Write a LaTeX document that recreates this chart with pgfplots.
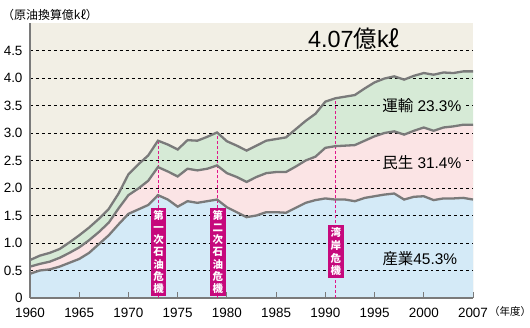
\documentclass[border=0pt]{standalone}
\usepackage{fontspec}
\setmainfont{Liberation Sans}
\newfontfamily\jp{Noto Sans CJK JP}
\usepackage{pgfplots}
\pgfplotsset{compat=1.18}
\usepackage{pgfplotstable}

\definecolor{bg}{HTML}{F2EFE5}
\definecolor{ind}{HTML}{D4EAF7}
\definecolor{res}{HTML}{FBE4E5}
\definecolor{tra}{HTML}{D6EAD6}
\definecolor{ln}{HTML}{7A7A7A}
\definecolor{mg}{HTML}{C6097C}
\definecolor{mgl}{HTML}{E0168A}

\pgfplotstableread{
year ind mid top
1960 0.44 0.57 0.69
1961 0.50 0.62 0.77
1962 0.52 0.66 0.82
1963 0.57 0.73 0.89
1964 0.64 0.82 1.01
1965 0.71 0.92 1.14
1966 0.82 1.05 1.28
1967 0.98 1.20 1.44
1968 1.14 1.37 1.62
1969 1.34 1.63 1.90
1970 1.53 1.87 2.25
1971 1.61 1.99 2.43
1972 1.69 2.13 2.59
1973 1.87 2.38 2.86
1974 1.79 2.30 2.79
1975 1.66 2.21 2.70
1976 1.76 2.35 2.87
1977 1.73 2.32 2.86
1978 1.76 2.35 2.93
1979 1.79 2.41 3.01
1980 1.65 2.27 2.85
1981 1.56 2.20 2.77
1982 1.47 2.11 2.68
1983 1.50 2.20 2.77
1984 1.56 2.27 2.86
1985 1.56 2.29 2.89
1986 1.55 2.29 2.92
1987 1.64 2.39 3.07
1988 1.73 2.50 3.22
1989 1.78 2.57 3.35
1990 1.81 2.73 3.57
1991 1.79 2.76 3.63
1992 1.79 2.77 3.66
1993 1.76 2.78 3.69
1994 1.82 2.86 3.81
1995 1.85 2.94 3.92
1996 1.88 3.00 3.99
1997 1.90 3.03 4.03
1998 1.79 2.97 3.97
1999 1.84 3.04 4.04
2000 1.85 3.10 4.09
2001 1.78 3.04 4.06
2002 1.81 3.10 4.10
2003 1.81 3.12 4.09
2004 1.82 3.15 4.12
2005 1.79 3.15 4.12
}\data

\begin{document}
\begin{tikzpicture}
\begin{axis}[
  set layers,
  scale only axis, width=443bp, height=275bp,
  xmin=1960, xmax=2005, ymin=0, ymax=5,
  axis x line*=bottom, axis y line*=left,
  axis line style={ln, line width=1.2bp},
  axis background/.style={fill=bg},
  xtick={1960,1965,1970,1975,1980,1985,1990,1995,2000,2005},
  xticklabels={1960,1965,1970,1975,1980,1985,1990,1995,2000,2007},
  ytick={0,0.5,1,1.5,2,2.5,3,3.5,4,4.5},
  yticklabels={0,0.5,1.0,1.5,2.0,2.5,3.0,3.5,4.0,4.5},
  tick align=inside, major tick length=6bp,
  xtick style={ln, line width=1bp},
  ytick style={draw=none},
  ymajorgrids, grid style={black, dashed, line width=0.6bp},
  /pgf/number format/assume math mode=true,
  ticklabel style={font=\fontsize{13.5}{13.5}\selectfont},
  xticklabel style={yshift=-7bp},
  yticklabel style={xshift=-4bp},
]
\addplot[on layer=axis background, fill=tra, draw=none] table[x=year,y=top]{\data} \closedcycle;
\addplot[on layer=axis background, fill=res, draw=none] table[x=year,y=mid]{\data} \closedcycle;
\addplot[on layer=axis background, fill=ind, draw=none] table[x=year,y=ind]{\data} \closedcycle;

\addplot[mgl, densely dashed, line width=0.9bp] coordinates {(1973,0) (1973,2.86)};
\addplot[mgl, densely dashed, line width=0.9bp] coordinates {(1979,0) (1979,3.01)};
\addplot[mgl, densely dashed, line width=0.9bp] coordinates {(1991,0) (1991,3.63)};

\addplot[ln, line width=2.3bp] table[x=year,y=top]{\data};
\addplot[ln, line width=2.3bp] table[x=year,y=mid]{\data};
\addplot[ln, line width=2.3bp] table[x=year,y=ind]{\data};

\coordinate (T) at (axis cs:1992.9,4.71);
\coordinate (L1) at (axis cs:1999.8,3.49);
\coordinate (L2) at (axis cs:1999.8,2.47);
\coordinate (L3) at (axis cs:1999.6,0.72);
\coordinate (B1) at (axis cs:1973.06,0.04);
\coordinate (B2) at (axis cs:1979.08,0.04);
\coordinate (B3) at (axis cs:1991.08,0.36);
\coordinate (SW) at (rel axis cs:0,0);
\coordinate (NE) at (rel axis cs:1,1);
\coordinate (NW) at (rel axis cs:0,1);
\coordinate (SE) at (rel axis cs:1,0);
\end{axis}

\node[font=\fontsize{23.5}{23.5}\selectfont] at (T) {4.07{\jp 億}k{\jp ℓ}};
\node[fill=tra, inner sep=2bp, font=\fontsize{15.5}{15.5}\selectfont] at (L1) {{\jp 運輸} 23.3\%};
\node[fill=res, inner sep=2bp, font=\fontsize{15.5}{15.5}\selectfont] at (L2) {{\jp 民生} 31.4\%};
\node[inner sep=2bp, font=\fontsize{15.5}{15.5}\selectfont] at (L3) {{\jp 産業}45.3\%};

\node[fill=mg, text=white, font=\jp\bfseries\fontsize{10.5}{12.3}\selectfont, align=center, inner xsep=2.7bp, inner ysep=2bp, anchor=south] at (B1) {第\\一\\次\\石\\油\\危\\機};
\node[fill=mg, text=white, font=\jp\bfseries\fontsize{10.5}{12.3}\selectfont, align=center, inner xsep=2.7bp, inner ysep=2bp, anchor=south] at (B2) {第\\二\\次\\石\\油\\危\\機};
\node[fill=mg, text=white, font=\jp\bfseries\fontsize{10.5}{13}\selectfont, align=center, inner xsep=2.7bp, inner ysep=2bp, anchor=south] at (B3) {湾\\岸\\危\\機};

\node[anchor=west, inner sep=0pt, font=\jp\fontsize{12}{12}\selectfont] at ([xshift=-28bp,yshift=8bp]NW) {（原油換算億kℓ）};
\node[anchor=west, inner sep=0pt, font=\jp\fontsize{10.5}{10.5}\selectfont] at ([xshift=16bp,yshift=-14bp]SE) {（年度）};

\pgfresetboundingbox
\path[use as bounding box] ([xshift=-30bp,yshift=-30bp]SW) rectangle ([xshift=57bp,yshift=23bp]NE);
\end{tikzpicture}
\end{document}
